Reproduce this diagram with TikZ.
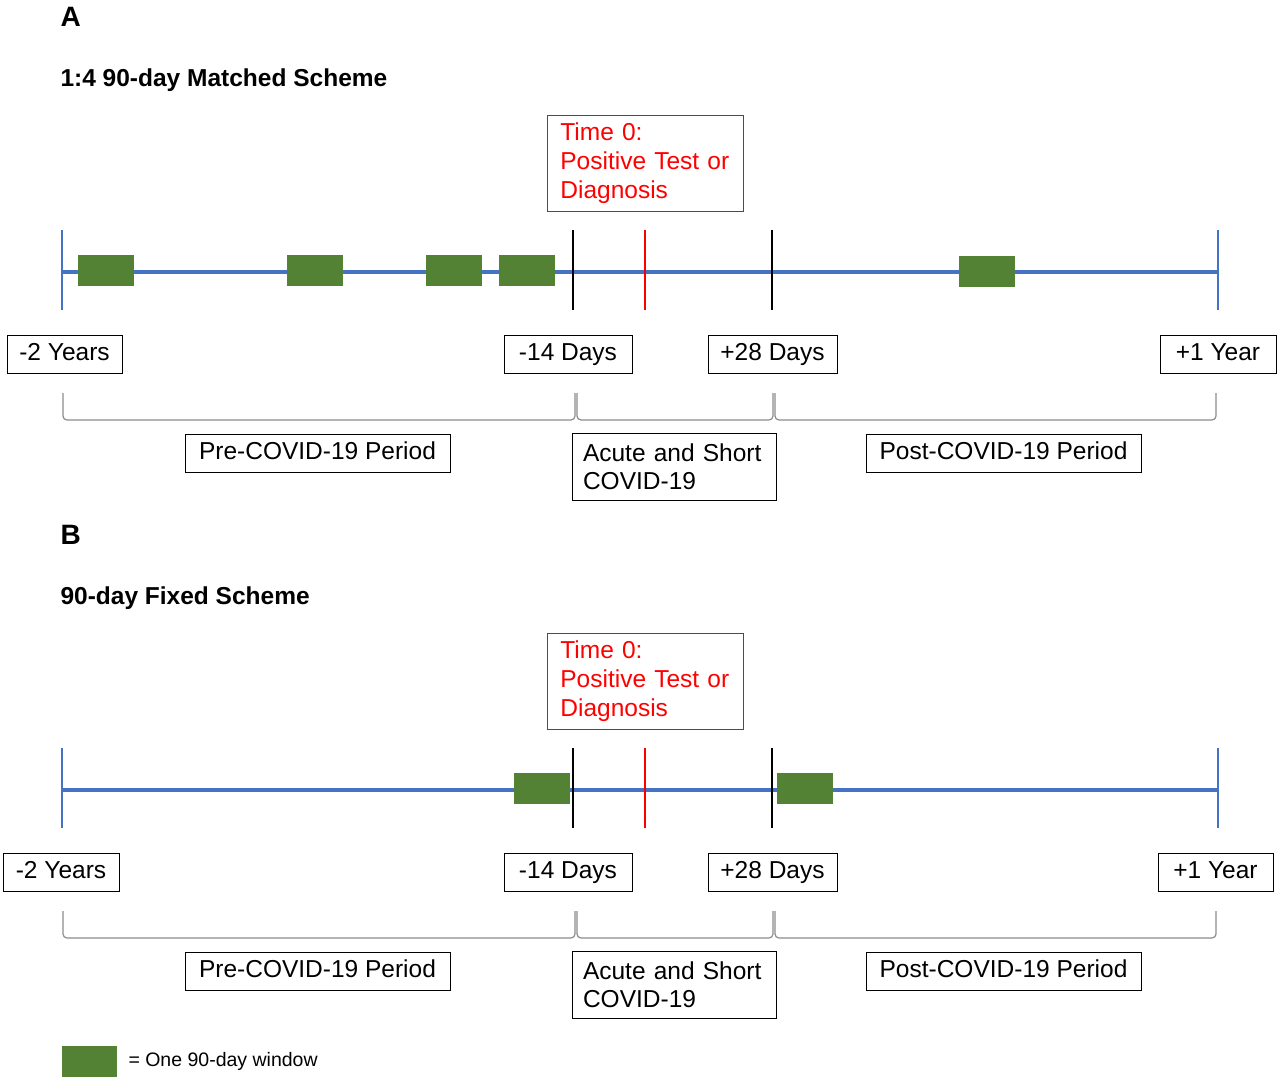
\documentclass[tikz,border=0pt]{standalone}
\usepackage{fontspec}
\setmainfont{Liberation Sans}
\definecolor{tlblue}{RGB}{68,114,196}
\definecolor{wingreen}{RGB}{84,130,53}
\definecolor{brgray}{RGB}{140,140,140}
\begin{document}
\begin{tikzpicture}[x=1pt,y=-1pt,
  lbl/.style={draw=black,line width=0.8pt,inner sep=0pt,text height=17pt,text depth=5pt,font=\fontsize{24.5}{28}\selectfont},
  redbox/.style={draw=red,line width=0.8pt,text=red,align=left,inner sep=0pt,font=\fontsize{24.5}{29}\selectfont},
  win/.style={fill=wingreen,draw=none},
  axis/.style={tlblue,line width=3.5pt},
  endtick/.style={tlblue,line width=2.2pt},
  blk/.style={black,line width=2pt},
  redtick/.style={red,line width=2pt},
  brk/.style={brgray,line width=1.2pt,rounded corners=4pt}]
\useasboundingbox (0,0) rectangle (1280,1081);
\node[anchor=west,font=\bfseries\fontsize{28}{30}\selectfont] (A) at (57,17) {A};
\node[anchor=west,font=\bfseries\fontsize{24.5}{28}\selectfont] (tA) at (57,80) {1:4 90-day Matched Scheme};
\node[anchor=west,font=\bfseries\fontsize{28}{30}\selectfont] (B) at (57,535) {B};
\node[anchor=west,font=\bfseries\fontsize{24.5}{28}\selectfont] (tB) at (57,598) {90-day Fixed Scheme};
\foreach \o/\p in {0/a,518/b}{
  \begin{scope}[yshift=-\o]
  \node[redbox,minimum width=196,minimum height=96,text width=190,anchor=north west] (t0\p) at (547,115) {\hspace*{10pt}Time 0:\\\hspace*{10pt}Positive Test or\\\hspace*{10pt}Diagnosis};
  \coordinate (L\p) at (62,272); \coordinate (R\p) at (1218,272);
  \draw[axis] (L\p) -- (R\p);
  \draw[endtick] (62,230) -- (62,310); \draw[endtick] (1218,230) -- (1218,310);
  \draw[blk] (573,230) -- (573,310); \draw[blk] (772,230) -- (772,310);
  \draw[redtick] (645,230) -- (645,310);
  \node[lbl,minimum width=128,minimum height=38] (m14\p) at (568,354) {-14 Days};
  \node[lbl,minimum width=129,minimum height=38] (p28\p) at (772.5,354) {+28 Days};
  \draw[brk] (63,393) -- (63,420) -- (575,420) -- (575,393);
  \draw[brk] (577,393) -- (577,420) -- (773,420) -- (773,393);
  \draw[brk] (775,393) -- (775,420) -- (1216,420) -- (1216,393);
  \node[lbl,minimum width=265,minimum height=38] (pre\p) at (317.5,453) {Pre-COVID-19 Period};
  \node[draw=black,line width=0.8pt,inner sep=0pt,minimum width=204,minimum height=67,align=left,text width=194,font=\fontsize{24.5}{28}\selectfont] (ac\p) at (674,466.5) {\hspace*{6pt}Acute and Short\\\hspace*{6pt}COVID-19};
  \node[lbl,minimum width=275,minimum height=38] (post\p) at (1003.5,453) {Post-COVID-19 Period};
  \end{scope}}
\node[lbl,minimum width=115,minimum height=38] (m2a) at (64.5,354) {-2 Years};
\node[lbl,minimum width=116,minimum height=38] (p1a) at (1218,354) {+1 Year};
\node[lbl,minimum width=116,minimum height=38] (m2b) at (61,872) {-2 Years};
\node[lbl,minimum width=115,minimum height=38] (p1b) at (1215.5,872) {+1 Year};
\foreach \x in {78,287,426,499}{\fill[win] (\x,255) rectangle ++(56,31);}
\fill[win] (959,256) rectangle ++(56,31);
\fill[win] (514,773) rectangle ++(56,31);
\fill[win] (777,773) rectangle ++(56,31);
\fill[win] (62,1046) rectangle (117,1077);
\node[anchor=west,font=\fontsize{19.5}{22}\selectfont] (leg) at (125,1061) {= One 90-day window};
\end{tikzpicture}
\end{document}
